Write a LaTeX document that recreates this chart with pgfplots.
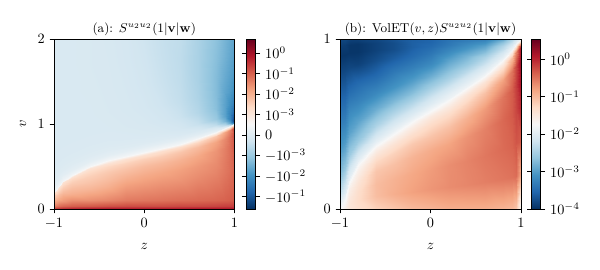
\documentclass[border=0pt]{standalone}
\usepackage{pgfplots}
\pgfplotsset{compat=1.18}
\usepackage{pgfplotstable}
\pgfplotsset{
  colormap={RdBuR}{rgb255=(5,48,97) rgb255=(33,102,172) rgb255=(67,147,195) rgb255=(146,197,222) rgb255=(209,229,240) rgb255=(247,247,247) rgb255=(253,219,199) rgb255=(244,165,130) rgb255=(214,96,77) rgb255=(178,24,43) rgb255=(103,0,31)},
}
% panel (a): S(z,v); mesh rows follow the sign-change curve
\pgfplotstableread[row sep=\\]{
z v s\\
-1 0 7.94e-1\\ -0.95 0 1.0\\ -0.9 0 1.26\\ -0.8 0 1.58\\ -0.6 0 2.0\\ -0.4 0 2.0\\ -0.2 0 2.0\\ 0 0 2.0\\ 0.2 0 2.0\\ 0.4 0 2.0\\ 0.6 0 2.0\\ 0.8 0 2.0\\ 0.9 0 2.0\\ 0.95 0 2.0\\ 1 0 1.58\\
-1 0.015 2.0e-1\\ -0.95 0.015 2.51e-1\\ -0.9 0.015 3.16e-1\\ -0.8 0.015 3.98e-1\\ -0.6 0.015 5.01e-1\\ -0.4 0.015 5.62e-1\\ -0.2 0.015 5.62e-1\\ 0 0.015 5.62e-1\\ 0.2 0.015 5.62e-1\\ 0.4 0.015 5.62e-1\\ 0.6 0.015 6.31e-1\\ 0.8 0.015 6.31e-1\\ 0.9 0.015 6.31e-1\\ 0.95 0.015 6.31e-1\\ 1 0.015 6.31e-1\\
-1 0.04 5.01e-2\\ -0.95 0.04 7.08e-2\\ -0.9 0.04 8.91e-2\\ -0.8 0.04 1.12e-1\\ -0.6 0.04 1.26e-1\\ -0.4 0.04 1.58e-1\\ -0.2 0.04 1.78e-1\\ 0 0.04 1.78e-1\\ 0.2 0.04 1.78e-1\\ 0.4 0.04 2.0e-1\\ 0.6 0.04 2.0e-1\\ 0.8 0.04 2.24e-1\\ 0.9 0.04 2.51e-1\\ 0.95 0.04 2.51e-1\\ 1 0.04 2.82e-1\\
-1 0.06 2.51e-2\\ -0.95 0.081 2.51e-2\\ -0.9 0.099 2.24e-2\\ -0.8 0.1 2.82e-2\\ -0.6 0.1 2.82e-2\\ -0.4 0.1 3.55e-2\\ -0.2 0.1 5.01e-2\\ 0 0.1 5.62e-2\\ 0.2 0.1 6.31e-2\\ 0.4 0.1 7.08e-2\\ 0.6 0.1 7.94e-2\\ 0.8 0.1 8.91e-2\\ 0.9 0.1 1.0e-1\\ 0.95 0.1 1.12e-1\\ 1 0.1 1.26e-1\\
-1 0.09 1.26e-2\\ -0.95 0.1215 1.26e-2\\ -0.9 0.1485 1.26e-2\\ -0.8 0.18 1.12e-2\\ -0.6 0.2295 8.91e-3\\ -0.4 0.259 1.12e-2\\ -0.2 0.281 1.78e-2\\ 0 0.304 2.0e-2\\ 0.2 0.324 2.24e-2\\ 0.4 0.3465 2.51e-2\\ 0.6 0.376 3.16e-2\\ 0.8 0.407 3.98e-2\\ 0.9 0.4275 5.62e-2\\ 0.95 0.439 7.08e-2\\ 1 0.45 1.0e-1\\
-1 0.12 7.08e-3\\ -0.95 0.162 7.08e-3\\ -0.9 0.198 7.08e-3\\ -0.8 0.24 7.08e-3\\ -0.6 0.306 5.62e-3\\ -0.4 0.345 7.08e-3\\ -0.2 0.375 1.0e-2\\ 0 0.405 1.26e-2\\ 0.2 0.432 1.41e-2\\ 0.4 0.462 1.78e-2\\ 0.6 0.501 2.24e-2\\ 0.8 0.543 3.16e-2\\ 0.9 0.57 5.01e-2\\ 0.95 0.585 7.08e-2\\ 1 0.6 1.12e-1\\
-1 0.15 3.98e-3\\ -0.95 0.2025 3.98e-3\\ -0.9 0.2475 3.98e-3\\ -0.8 0.3 3.98e-3\\ -0.6 0.3825 3.55e-3\\ -0.4 0.431 4.47e-3\\ -0.2 0.469 5.62e-3\\ 0 0.506 7.08e-3\\ 0.2 0.54 7.94e-3\\ 0.4 0.5775 1.0e-2\\ 0.6 0.626 1.41e-2\\ 0.8 0.679 2.51e-2\\ 0.9 0.7125 4.47e-2\\ 0.95 0.731 7.08e-2\\ 1 0.75 1.41e-1\\
-1 0.174 2.24e-3\\ -0.95 0.235 2.24e-3\\ -0.9 0.287 2.51e-3\\ -0.8 0.348 2.51e-3\\ -0.6 0.4437 2.24e-3\\ -0.4 0.5 2.51e-3\\ -0.2 0.544 3.16e-3\\ 0 0.587 3.55e-3\\ 0.2 0.626 3.98e-3\\ 0.4 0.67 5.01e-3\\ 0.6 0.726 7.08e-3\\ 0.8 0.787 1.58e-2\\ 0.9 0.8265 3.55e-2\\ 0.95 0.848 7.08e-2\\ 1 0.87 1.78e-1\\
-1 0.19 1.26e-3\\ -0.95 0.2565 1.26e-3\\ -0.9 0.3135 1.41e-3\\ -0.8 0.38 1.41e-3\\ -0.6 0.4845 1.26e-3\\ -0.4 0.546 1.26e-3\\ -0.2 0.594 1.58e-3\\ 0 0.641 1.58e-3\\ 0.2 0.684 1.78e-3\\ 0.4 0.7315 2.0e-3\\ 0.6 0.793 2.51e-3\\ 0.8 0.86 5.01e-3\\ 0.9 0.9025 1.58e-2\\ 0.95 0.926 3.98e-2\\ 1 0.95 2.24e-1\\
-1 0.2 4.5e-4\\ -0.95 0.27 4.5e-4\\ -0.9 0.33 4.5e-4\\ -0.8 0.40 4.5e-4\\ -0.6 0.51 4.5e-4\\ -0.4 0.575 4.5e-4\\ -0.2 0.625 4.5e-4\\ 0 0.675 4.5e-4\\ 0.2 0.72 4.5e-4\\ 0.4 0.77 4.5e-4\\ 0.6 0.835 4.5e-4\\ 0.8 0.905 4.5e-4\\ 0.9 0.95 4.5e-4\\ 0.95 0.975 4.5e-4\\ 1 1.0 4.5e-4\\
-1 0.227 3.0e-4\\ -0.95 0.296 3.0e-4\\ -0.9 0.355 3.0e-4\\ -0.8 0.424 3.0e-4\\ -0.6 0.532 3.0e-4\\ -0.4 0.596 3.0e-4\\ -0.2 0.646 3.0e-4\\ 0 0.695 3.0e-4\\ 0.2 0.739 3.0e-4\\ 0.4 0.788 3.0e-4\\ 0.6 0.852 3.0e-4\\ 0.8 0.921 2.0e-4\\ 0.9 0.966 0\\ 0.95 0.990 -5.0e-4\\ 1 1.015 -1.58e-2\\
-1 0.272 1.2e-4\\ -0.95 0.339 1.2e-4\\ -0.9 0.397 1.2e-4\\ -0.8 0.464 1.2e-4\\ -0.6 0.570 1.2e-4\\ -0.4 0.632 1.2e-4\\ -0.2 0.68 1.2e-4\\ 0 0.728 1.2e-4\\ 0.2 0.771 1.0e-4\\ 0.4 0.819 8.0e-5\\ 0.6 0.882 5.0e-5\\ 0.8 0.949 -1.0e-4\\ 0.9 0.992 -6.0e-4\\ 0.95 1.016 -3.98e-3\\ 1 1.04 -2.0e-1\\
-1 0.344 0\\ -0.95 0.408 0\\ -0.9 0.464 0\\ -0.8 0.528 0\\ -0.6 0.629 0\\ -0.4 0.689 0\\ -0.2 0.735 -1.0e-5\\ 0 0.781 -2.0e-5\\ 0.2 0.822 -4.0e-5\\ 0.4 0.868 -8.0e-5\\ 0.6 0.928 -1.5e-4\\ 0.8 0.993 -5.0e-4\\ 0.9 1.034 -2.51e-3\\ 0.95 1.057 -1.58e-2\\ 1 1.08 -1.26e-1\\
-1 0.452 -7.0e-5\\ -0.95 0.512 -7.0e-5\\ -0.9 0.564 -7.0e-5\\ -0.8 0.624 -7.0e-5\\ -0.6 0.719 -7.0e-5\\ -0.4 0.775 -7.0e-5\\ -0.2 0.818 -8.0e-5\\ 0 0.861 -1.0e-4\\ 0.2 0.899 -1.2e-4\\ 0.4 0.942 -2.0e-4\\ 0.6 0.998 -4.0e-4\\ 0.8 1.058 -1.0e-3\\ 0.9 1.097 -5.01e-3\\ 0.95 1.119 -1.58e-2\\ 1 1.14 -5.01e-2\\
-1 0.65 -1.0e-4\\ -0.95 0.703 -1.0e-4\\ -0.9 0.748 -1.0e-4\\ -0.8 0.8 -1.0e-4\\ -0.6 0.883 -1.0e-4\\ -0.4 0.931 -1.0e-4\\ -0.2 0.969 -1.2e-4\\ 0 1.006 -1.5e-4\\ 0.2 1.04 -2.2e-4\\ 0.4 1.078 -3.5e-4\\ 0.6 1.126 -6.5e-4\\ 0.8 1.179 -1.58e-3\\ 0.9 1.213 -5.01e-3\\ 0.95 1.231 -1.0e-2\\ 1 1.25 -2.0e-2\\
-1 0.92 -1.0e-4\\ -0.95 0.962 -1.0e-4\\ -0.9 1.0 -1.0e-4\\ -0.8 1.04 -1.0e-4\\ -0.6 1.106 -1.0e-4\\ -0.4 1.145 -1.2e-4\\ -0.2 1.175 -1.5e-4\\ 0 1.205 -2.0e-4\\ 0.2 1.232 -3.0e-4\\ 0.4 1.262 -4.5e-4\\ 0.6 1.301 -7.5e-4\\ 0.8 1.343 -1.78e-3\\ 0.9 1.37 -4.47e-3\\ 0.95 1.385 -6.31e-3\\ 1 1.4 -1.0e-2\\
-1 1.28 -1.0e-4\\ -0.95 1.308 -1.0e-4\\ -0.9 1.332 -1.0e-4\\ -0.8 1.36 -1.0e-4\\ -0.6 1.404 -1.1e-4\\ -0.4 1.43 -1.3e-4\\ -0.2 1.45 -1.7e-4\\ 0 1.47 -2.4e-4\\ 0.2 1.488 -3.6e-4\\ 0.4 1.508 -5.0e-4\\ 0.6 1.534 -8.0e-4\\ 0.8 1.562 -1.78e-3\\ 0.9 1.58 -3.55e-3\\ 0.95 1.59 -5.01e-3\\ 1 1.6 -7.08e-3\\
-1 1.64 -1.0e-4\\ -0.95 1.654 -1.0e-4\\ -0.9 1.666 -1.0e-4\\ -0.8 1.68 -1.0e-4\\ -0.6 1.702 -1.2e-4\\ -0.4 1.715 -1.4e-4\\ -0.2 1.725 -1.9e-4\\ 0 1.735 -2.7e-4\\ 0.2 1.744 -4.0e-4\\ 0.4 1.754 -5.2e-4\\ 0.6 1.767 -8.0e-4\\ 0.8 1.781 -1.58e-3\\ 0.9 1.79 -2.82e-3\\ 0.95 1.795 -3.98e-3\\ 1 1.8 -5.62e-3\\
-1 2.0 -1.0e-4\\ -0.95 2.0 -1.0e-4\\ -0.9 2.0 -1.0e-4\\ -0.8 2.0 -1.0e-4\\ -0.6 2.0 -1.2e-4\\ -0.4 2.0 -1.5e-4\\ -0.2 2.0 -2.0e-4\\ 0 2.0 -3.0e-4\\ 0.2 2.0 -4.2e-4\\ 0.4 2.0 -5.0e-4\\ 0.6 2.0 -7.8e-4\\ 0.8 2.0 -1.41e-3\\ 0.9 2.0 -2.51e-3\\ 0.95 2.0 -3.55e-3\\ 1 2.0 -4.47e-3\\
}\tableA
% panel (b): VolET(v,z) S(z,v); mesh rows follow the 1e-2 level
\pgfplotstableread[row sep=\\]{
z v s\\
-1 0 1.78e-2\\ -0.95 0 2.51e-2\\ -0.9 0 3.55e-2\\ -0.8 0 4.47e-2\\ -0.6 0 6.31e-2\\ -0.4 0 7.94e-2\\ -0.2 0 1.0e-1\\ 0 0 1.12e-1\\ 0.2 0 1.26e-1\\ 0.4 0 1.26e-1\\ 0.6 0 1.26e-1\\ 0.8 0 1.12e-1\\ 0.9 0 1.0e-1\\ 0.95 0 7.94e-2\\ 1 0 1.58e-2\\
-1 0 1.78e-2\\ -0.95 0.01 2.40e-2\\ -0.9 0.03 3.55e-2\\ -0.8 0.052 5.01e-2\\ -0.6 0.074 9.33e-2\\ -0.4 0.088 1.26e-1\\ -0.2 0.102 1.58e-1\\ 0 0.115 1.91e-1\\ 0.2 0.128 2.19e-1\\ 0.4 0.142 2.40e-1\\ 0.6 0.157 2.69e-1\\ 0.8 0.175 3.02e-1\\ 0.9 0.187 3.24e-1\\ 0.95 0.194 3.55e-1\\ 1 0.2 1.26e-1\\
-1 0 1.78e-2\\ -0.95 0.02 2.24e-2\\ -0.9 0.06 3.31e-2\\ -0.8 0.104 4.68e-2\\ -0.6 0.148 9.55e-2\\ -0.4 0.176 1.17e-1\\ -0.2 0.204 1.41e-1\\ 0 0.23 1.74e-1\\ 0.2 0.256 2.14e-1\\ 0.4 0.284 2.51e-1\\ 0.6 0.314 3.02e-1\\ 0.8 0.35 3.63e-1\\ 0.9 0.374 4.07e-1\\ 0.95 0.388 5.01e-1\\ 1 0.4 4.47e-1\\
-1 0 1.78e-2\\ -0.95 0.03 2.14e-2\\ -0.9 0.09 2.95e-2\\ -0.8 0.156 3.80e-2\\ -0.6 0.222 7.94e-2\\ -0.4 0.264 8.91e-2\\ -0.2 0.306 1.12e-1\\ 0 0.345 1.32e-1\\ 0.2 0.384 1.51e-1\\ 0.4 0.426 2.0e-1\\ 0.6 0.471 2.63e-1\\ 0.8 0.525 3.80e-1\\ 0.9 0.561 4.68e-1\\ 0.95 0.582 6.31e-1\\ 1 0.6 1.0\\
-1 0 1.78e-2\\ -0.95 0.0375 2.04e-2\\ -0.9 0.1125 2.63e-2\\ -0.8 0.195 3.02e-2\\ -0.6 0.2775 5.62e-2\\ -0.4 0.33 6.31e-2\\ -0.2 0.3825 7.59e-2\\ 0 0.431 8.32e-2\\ 0.2 0.48 8.91e-2\\ 0.4 0.5325 1.20e-1\\ 0.6 0.589 1.78e-1\\ 0.8 0.656 3.16e-1\\ 0.9 0.701 4.47e-1\\ 0.95 0.728 7.08e-1\\ 1 0.75 1.58\\
-1 0 1.78e-2\\ -0.95 0.0435 2.0e-2\\ -0.9 0.1305 2.34e-2\\ -0.8 0.2262 2.51e-2\\ -0.6 0.3219 3.55e-2\\ -0.4 0.3828 3.98e-2\\ -0.2 0.4437 4.47e-2\\ 0 0.5 5.01e-2\\ 0.2 0.557 5.01e-2\\ 0.4 0.6177 6.31e-2\\ 0.6 0.683 8.91e-2\\ 0.8 0.761 1.58e-1\\ 0.9 0.813 3.16e-1\\ 0.95 0.844 6.31e-1\\ 1 0.87 2.0\\
-1 0 1.78e-2\\ -0.95 0.0475 1.91e-2\\ -0.9 0.1425 2.09e-2\\ -0.8 0.247 2.09e-2\\ -0.6 0.3515 2.51e-2\\ -0.4 0.418 2.63e-2\\ -0.2 0.4845 2.82e-2\\ 0 0.546 3.16e-2\\ 0.2 0.608 3.02e-2\\ 0.4 0.6745 3.55e-2\\ 0.6 0.746 3.98e-2\\ 0.8 0.831 5.01e-2\\ 0.9 0.888 1.0e-1\\ 0.95 0.922 2.51e-1\\ 1 0.95 1.58\\
-1 0 1.78e-2\\ -0.95 0.05 1.86e-2\\ -0.9 0.15 1.86e-2\\ -0.8 0.26 1.86e-2\\ -0.6 0.37 1.86e-2\\ -0.4 0.44 1.86e-2\\ -0.2 0.51 1.86e-2\\ 0 0.575 1.86e-2\\ 0.2 0.64 1.86e-2\\ 0.4 0.71 1.86e-2\\ 0.6 0.785 1.86e-2\\ 0.8 0.875 1.86e-2\\ 0.9 0.935 1.86e-2\\ 0.95 0.97 1.86e-2\\ 1 1.0 1.58e-2\\
-1 0.04 1.12e-2\\ -0.95 0.088 1.12e-2\\ -0.9 0.184 1.12e-2\\ -0.8 0.2896 1.12e-2\\ -0.6 0.3952 1.20e-2\\ -0.4 0.4624 1.26e-2\\ -0.2 0.5296 1.32e-2\\ 0 0.592 1.41e-2\\ 0.2 0.654 1.41e-2\\ 0.4 0.7216 1.41e-2\\ 0.6 0.7936 1.48e-2\\ 0.8 0.88 1.58e-2\\ 0.9 0.9376 1.66e-2\\ 0.95 0.971 1.74e-2\\ 1 1.0 1.58e-2\\
-1 0.1 5.01e-3\\ -0.95 0.145 6.31e-3\\ -0.9 0.235 7.08e-3\\ -0.8 0.334 6.31e-3\\ -0.6 0.433 7.08e-3\\ -0.4 0.496 8.91e-3\\ -0.2 0.559 8.91e-3\\ 0 0.6175 1.0e-2\\ 0.2 0.676 1.12e-2\\ 0.4 0.739 1.12e-2\\ 0.6 0.8065 1.20e-2\\ 0.8 0.8875 1.32e-2\\ 0.9 0.9415 1.48e-2\\ 0.95 0.973 1.58e-2\\ 1 1.0 1.58e-2\\
-1 0.2 2.0e-3\\ -0.95 0.24 2.51e-3\\ -0.9 0.32 2.82e-3\\ -0.8 0.408 2.51e-3\\ -0.6 0.496 3.55e-3\\ -0.4 0.552 4.47e-3\\ -0.2 0.608 5.01e-3\\ 0 0.66 6.31e-3\\ 0.2 0.712 7.08e-3\\ 0.4 0.768 7.94e-3\\ 0.6 0.828 8.91e-3\\ 0.8 0.9 1.05e-2\\ 0.9 0.948 1.26e-2\\ 0.95 0.976 1.41e-2\\ 1 1.0 1.58e-2\\
-1 0.35 8.91e-4\\ -0.95 0.3825 1.0e-3\\ -0.9 0.4475 1.12e-3\\ -0.8 0.519 1.12e-3\\ -0.6 0.5905 1.41e-3\\ -0.4 0.636 1.78e-3\\ -0.2 0.6815 2.0e-3\\ 0 0.724 2.82e-3\\ 0.2 0.766 3.55e-3\\ 0.4 0.8115 4.47e-3\\ 0.6 0.8603 5.62e-3\\ 0.8 0.9188 7.94e-3\\ 0.9 0.9578 1.0e-2\\ 0.95 0.981 1.26e-2\\ 1 1.0 1.58e-2\\
-1 0.5 5.01e-4\\ -0.95 0.525 5.01e-4\\ -0.9 0.575 6.31e-4\\ -0.8 0.63 5.62e-4\\ -0.6 0.685 6.31e-4\\ -0.4 0.72 7.94e-4\\ -0.2 0.755 1.0e-3\\ 0 0.7875 1.32e-3\\ 0.2 0.82 2.0e-3\\ 0.4 0.855 2.51e-3\\ 0.6 0.8925 3.55e-3\\ 0.8 0.9375 5.62e-3\\ 0.9 0.9675 7.94e-3\\ 0.95 0.985 1.07e-2\\ 1 1.0 1.58e-2\\
-1 0.65 2.82e-4\\ -0.95 0.6675 2.82e-4\\ -0.9 0.7025 3.16e-4\\ -0.8 0.741 3.16e-4\\ -0.6 0.7795 3.16e-4\\ -0.4 0.804 4.47e-4\\ -0.2 0.8285 5.25e-4\\ 0 0.851 6.61e-4\\ 0.2 0.874 1.12e-3\\ 0.4 0.8985 1.58e-3\\ 0.6 0.9248 2.0e-3\\ 0.8 0.9563 3.98e-3\\ 0.9 0.9773 6.31e-3\\ 0.95 0.99 9.33e-3\\ 1 1.0 1.58e-2\\
-1 0.8 1.58e-4\\ -0.95 0.81 1.58e-4\\ -0.9 0.83 1.58e-4\\ -0.8 0.852 1.41e-4\\ -0.6 0.874 1.78e-4\\ -0.4 0.888 2.40e-4\\ -0.2 0.902 3.16e-4\\ 0 0.915 4.17e-4\\ 0.2 0.928 6.31e-4\\ 0.4 0.942 8.91e-4\\ 0.6 0.957 1.12e-3\\ 0.8 0.975 2.51e-3\\ 0.9 0.987 4.79e-3\\ 0.95 0.994 7.94e-3\\ 1 1.0 1.58e-2\\
-1 0.9 1.12e-4\\ -0.95 0.905 1.12e-4\\ -0.9 0.915 1.12e-4\\ -0.8 0.926 1.12e-4\\ -0.6 0.937 1.41e-4\\ -0.4 0.944 1.78e-4\\ -0.2 0.951 2.51e-4\\ 0 0.9575 3.16e-4\\ 0.2 0.964 4.47e-4\\ 0.4 0.971 6.31e-4\\ 0.6 0.9785 7.94e-4\\ 0.8 0.9875 1.78e-3\\ 0.9 0.9935 3.98e-3\\ 0.95 0.997 7.08e-3\\ 1 1.0 1.58e-2\\
-1 0.96 1.26e-4\\ -0.95 0.962 1.26e-4\\ -0.9 0.966 1.12e-4\\ -0.8 0.9704 1.12e-4\\ -0.6 0.9748 1.41e-4\\ -0.4 0.9776 1.78e-4\\ -0.2 0.9804 2.51e-4\\ 0 0.983 2.82e-4\\ 0.2 0.986 3.98e-4\\ 0.4 0.9884 5.01e-4\\ 0.6 0.9914 5.62e-4\\ 0.8 0.995 1.41e-3\\ 0.9 0.9974 3.39e-3\\ 0.95 0.999 6.61e-3\\ 1 1.0 1.58e-2\\
-1 1.0 1.58e-4\\ -0.95 1.0 1.58e-4\\ -0.9 1.0 1.41e-4\\ -0.8 1.0 1.41e-4\\ -0.6 1.0 1.58e-4\\ -0.4 1.0 2.0e-4\\ -0.2 1.0 2.51e-4\\ 0 1.0 2.82e-4\\ 0.2 1.0 3.98e-4\\ 0.4 1.0 5.01e-4\\ 0.6 1.0 5.01e-4\\ 0.8 1.0 1.26e-3\\ 0.9 1.0 3.16e-3\\ 0.95 1.0 6.31e-3\\ 1 1.0 1.58e-2\\
}\tableB

\pgfplotsset{
  heat/.style={
    scale only axis, anchor=south west,
    view={0}{90},
    xmin=-1, xmax=1, zmin=-1, zmax=1,
    enlargelimits=false,
    xtick={-1,0,1}, ztick=\empty,
    tick align=outside, tick pos=left,
    major tick length=3pt,
    axis line style={black, line width=0.6pt},
    every tick/.style={black, line width=0.6pt},
    xlabel={$z$},
    xlabel style={at={(axis description cs:0.5,0)}, anchor=center, yshift=-26pt},
    title style={at={(axis description cs:0.5,1)}, anchor=base, yshift=-1.5pt, font=\small},
    colormap name=RdBuR,
    colorbar,
  },
}

\begin{document}
\begin{tikzpicture}
\useasboundingbox (0,0) rectangle (420pt,189pt);
\begin{axis}[heat,
  at={(37.8pt,42.7pt)}, width=126.3pt, height=119pt,
  ymin=0, ymax=2, ytick={0,1,2},
  ylabel={$v$},
  ylabel style={at={(axis description cs:-0.172,0.5)}, anchor=center},
  title={(a): $S^{u_2u_2}(1|\mathbf{v}|\mathbf{w})$},
  point meta min=-3.59, point meta max=4.68,
  colorbar style={
    at={(parent axis.north east)}, anchor=north west, xshift=-0.3pt,
    width=6.8pt, height=119pt, scale only axis,
    ytick={-3,-2,-1,0,1,2,3,4},
    yticklabels={$-10^{-1}$,$-10^{-2}$,$-10^{-3}$,$0$,$10^{-3}$,$10^{-2}$,$10^{-1}$,$10^{0}$},
    major tick length=3pt, tick align=outside,
    axis line style={black, line width=0.6pt},
    every tick/.style={black, line width=0.6pt},
  },
]
\addplot3[surf, shader=interp, mesh/cols=15,
  point meta={ifthenelse(abs(\thisrow{s})<0.001, 1000*\thisrow{s}, ifthenelse(\thisrow{s}>0,1,-1)*(4+ln(max(abs(\thisrow{s}),0.001))/2.302585))}]
  table[x=z, y=v, z expr=0] {\tableA};
\end{axis}
\begin{axis}[heat,
  at={(238pt,42.7pt)}, width=126.7pt, height=119pt,
  ymin=0, ymax=1, ytick={0,1},
  title={(b): $\mathrm{VolET}(v,z)S^{u_2u_2}(1|\mathbf{v}|\mathbf{w})$},
  point meta min=-4, point meta max=0.54,
  colorbar style={
    at={(parent axis.north east)}, anchor=north west, xshift=-1pt,
    width=6.3pt, height=119pt, scale only axis,
    ytick={-4,-3,-2,-1,0},
    yticklabels={$10^{-4}$,$10^{-3}$,$10^{-2}$,$10^{-1}$,$10^{0}$},
    major tick length=3pt, tick align=outside,
    axis line style={black, line width=0.6pt},
    every tick/.style={black, line width=0.6pt},
  },
]
\addplot3[surf, shader=interp, mesh/cols=15,
  point meta={ln(\thisrow{s})/2.302585}]
  table[x=z, y=v, z expr=0] {\tableB};
\end{axis}
\end{tikzpicture}
\end{document}
